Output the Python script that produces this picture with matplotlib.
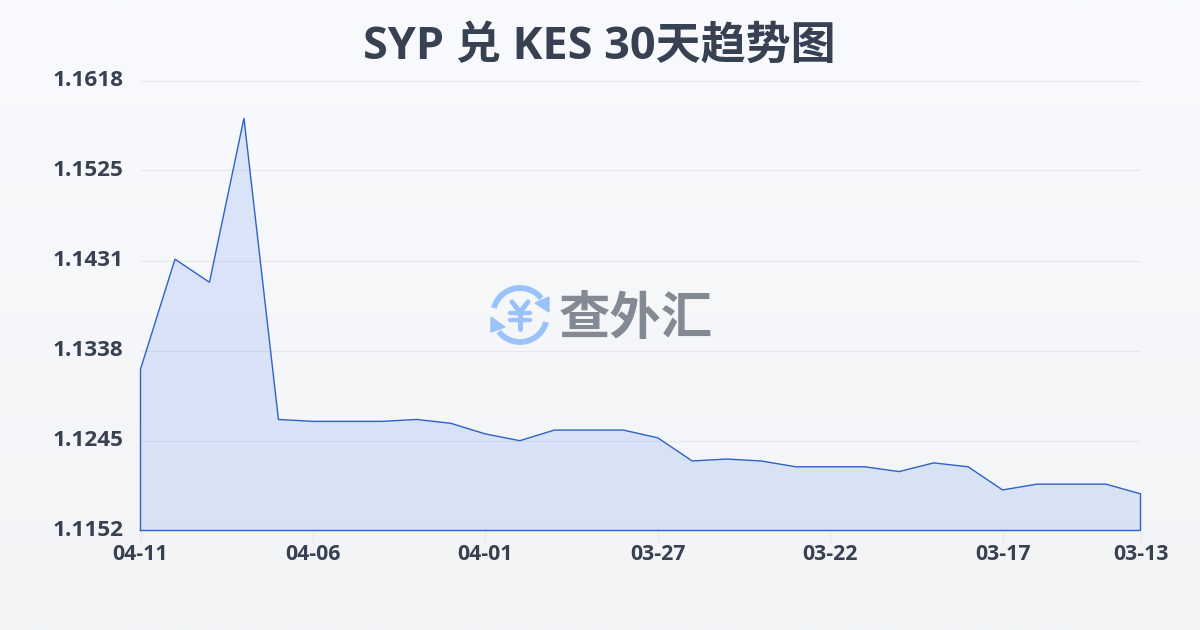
import numpy as np
import matplotlib
matplotlib.use("Agg")
import matplotlib.pyplot as plt
import matplotlib.patches as patches
from matplotlib.transforms import ScaledTranslation

plt.rcParams['font.family'] = ['Open Sans', 'Noto Sans CJK SC', 'DejaVu Sans']

# === Dati ===
dates = ["04-11", "04-10", "04-09", "04-08", "04-07", "04-06", "04-05", "04-04", "04-03", "04-02",
         "04-01", "03-31", "03-30", "03-29", "03-28", "03-27", "03-26", "03-25", "03-24", "03-23",
         "03-22", "03-21", "03-20", "03-19", "03-18", "03-17", "03-16", "03-15", "03-14", "03-13"]
rates = [1.1319, 1.1433, 1.1409, 1.1579, 1.1267, 1.1265, 1.1265, 1.1265, 1.1267, 1.1263,
         1.1252, 1.1245, 1.1256, 1.1256, 1.1256, 1.1248, 1.1224, 1.1226, 1.1224, 1.1218,
         1.1218, 1.1218, 1.1213, 1.1222, 1.1218, 1.1194, 1.1200, 1.1200, 1.1200, 1.1190]
y_ticks = [1.1152, 1.1245, 1.1338, 1.1431, 1.1525, 1.1618]
title = "SYP 兑 KES 30天趋势图"
watermark = "查外汇"

TEXT = "#374151"
LINE = "#2f62c8"

fig = plt.figure(figsize=(12, 6.3), dpi=100)

# sfondo sfumato
bg = fig.add_axes([0, 0, 1, 1], zorder=0)
bg.axis("off")
grad = np.linspace(0, 1, 256).reshape(-1, 1, 1)
top = np.array([0xf8, 0xfa, 0xfd]) / 255
bottom = np.array([0xf2, 0xf4, 0xf6]) / 255
bg.imshow(top + (bottom - top) * grad, aspect="auto", extent=[0, 1, 0, 1])

# === Grafico ===
ax = fig.add_axes([140.5 / 1200, 1 - 530.5 / 630, 1000 / 1200, 450 / 630], zorder=1)
ax.patch.set_alpha(0)
x = np.arange(len(rates))
ax.set_xlim(0, len(rates) - 1)
ax.set_ylim(y_ticks[0], y_ticks[-1])

# contorno chiuso: anche base e lati
xs = np.concatenate([[x[0]], x, [x[-1], x[0]]])
ys = np.concatenate([[y_ticks[0]], rates, [y_ticks[0], y_ticks[0]]])
ax.fill(xs, ys, facecolor="#2563eb", alpha=0.13, edgecolor="none", zorder=2)
ax.plot(xs, ys, color=LINE, lw=1.0, zorder=3, clip_on=False, solid_joinstyle="miter")

ax.set_yticks(y_ticks)
ax.set_yticklabels([f"{v:.4f}" for v in y_ticks])
ax.set_xticks(x[::5].tolist() + [x[-1]])
ax.set_xticklabels([dates[i] for i in x[::5]] + [dates[-1]])
ax.tick_params(axis="y", length=0, pad=12.5, labelsize=16.2, labelcolor=TEXT)
ax.tick_params(axis="x", length=8, width=0.8, color="#e5e7eb", pad=1.7, labelsize=15.3, labelcolor=TEXT)
for lab in ax.get_xticklabels() + ax.get_yticklabels():
    lab.set_fontweight("bold")
# le etichette y stanno un po' sopra la griglia
up = ScaledTranslation(0, 2 / 72, fig.dpi_scale_trans)
for lab in ax.get_yticklabels():
    lab.set_transform(lab.get_transform() + up)
ax.grid(axis="y", color="#e5e7eb", lw=0.8, zorder=1)
for s in ax.spines.values():
    s.set_visible(False)

fig.text(0.4992, 1 - 47 / 630, title, ha="center", va="center", fontsize=32.4, fontweight="bold", color=TEXT)

# === Logo ===
over = fig.add_axes([0, 0, 1, 1], zorder=3)
over.set_xlim(0, 1200)
over.set_ylim(630, 0)
over.axis("off")
BLUE = "#9cc2fb"
cx, cy, r = 520, 315, 27
over.add_patch(patches.Arc((cx, cy), 2 * r, 2 * r, theta1=195, theta2=322, color=BLUE, lw=4.2))
over.add_patch(patches.Arc((cx, cy), 2 * r, 2 * r, theta1=15, theta2=142, color=BLUE, lw=4.2))
over.add_patch(patches.Polygon([[535, 303], [549, 297], [549, 312]], color=BLUE))
over.add_patch(patches.Polygon([[505, 327], [491, 332], [491, 317]], color=BLUE))
over.plot([512, 520, 528], [302, 312, 302], color=BLUE, lw=3.6, solid_capstyle="round")
over.plot([520, 520], [312, 329], color=BLUE, lw=3.6, solid_capstyle="round")
over.plot([510, 530], [313, 313], color=BLUE, lw=3.2, solid_capstyle="round")
over.plot([510, 530], [320, 320], color=BLUE, lw=3.2, solid_capstyle="round")
over.text(636, 321, watermark, ha="center", va="center", fontsize=37, fontweight="bold", color="#848a93")

plt.savefig("out.png", dpi=100)
